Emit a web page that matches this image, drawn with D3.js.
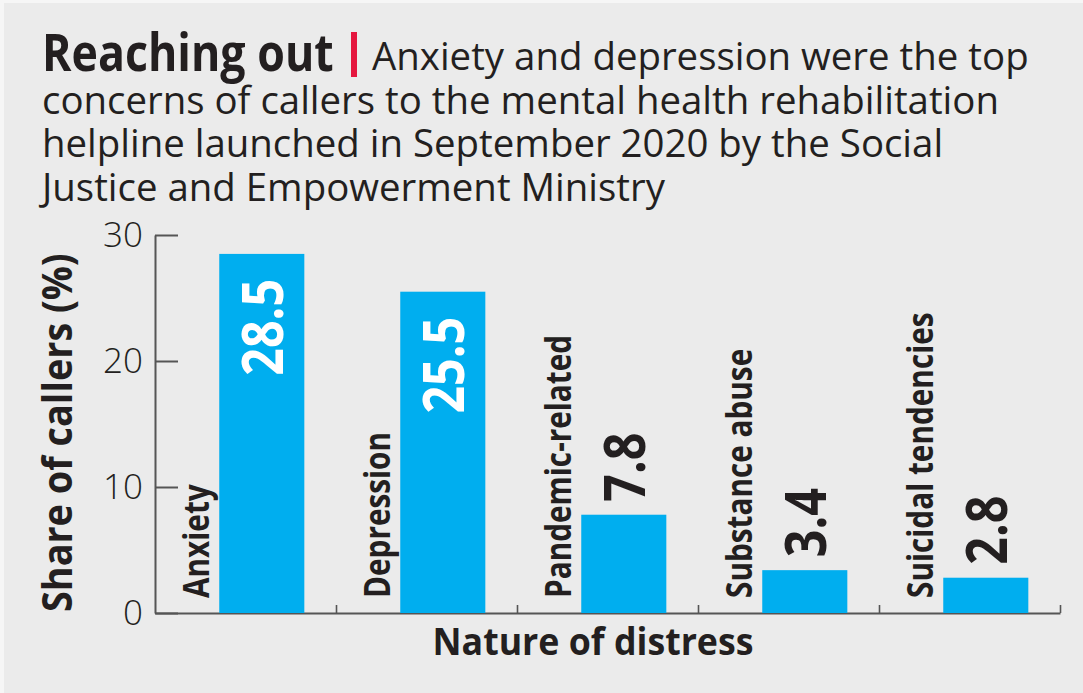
<!DOCTYPE html>
<html>
<head>
<meta charset="utf-8">
<script src="https://cdn.jsdelivr.net/npm/d3@7"></script>
<style>
  body { margin: 0; background: #f6f6f6; }
  svg { display: block; font-family: "Open Sans", "Noto Sans", sans-serif; }
</style>
</head>
<body>
<script>
const categories = ['Anxiety', 'Depression', 'Pandemic-related', 'Substance abuse', 'Suicidal tendencies'];
const shares = [28.5, 25.5, 7.8, 3.4, 2.8];
const yTicks = [0, 10, 20, 30];
const titleBold = 'Reaching out';
const titleLines = [
  'Anxiety and depression were the top',
  'concerns of callers to the mental health rehabilitation',
  'helpline launched in September 2020 by the Social',
  'Justice and Empowerment Ministry'
];
const yTitle = 'Share of callers (%)';
const xTitle = 'Nature of distress';

const width = 1083, height = 693;
const ink = '#231f20';
const blue = '#00aeef';

const svg = d3.select('body').append('svg').attr('width', width).attr('height', height);
svg.append('rect').attr('x', 4).attr('y', 3).attr('width', width - 4).attr('height', height - 3).attr('fill', '#ebebeb');

// header
svg.append('text')
  .attr('transform', 'translate(42,71) scale(0.86,1)')
  .attr('font-size', 52).attr('font-weight', 700).attr('fill', ink)
  .text(titleBold);
svg.append('rect').attr('x', 351).attr('y', 32).attr('width', 6).attr('height', 45).attr('fill', '#e5173f');

svg.selectAll('text.sub')
  .data(titleLines)
  .enter()
  .append('text')
    .attr('class', 'sub')
    .attr('x', (d, i) => i == 0 ? 372 : 42)
    .attr('y', (d, i) => 70 + i * 43.6)
    .attr('font-size', 38.4)
    .attr('fill', ink)
    .text(d => d);

// scales
let x0 = 155, x1 = 1060;
let y = d3.scaleLinear().domain([0, 30]).range([613, 235]);
let xBand = d3.scaleBand().domain(categories).range([x0, x1]);
let xIdx = d3.scaleLinear().domain([0, categories.length]).range([x0, x1]);
let bw = xBand.bandwidth();

// y axis
let yAxis = svg.append('g')
  .attr('transform', `translate(${x0},0)`)
  .call(d3.axisLeft(y).tickValues(yTicks).tickSize(-23).tickSizeOuter(0).tickPadding(12));
yAxis.select('.domain').attr('stroke', '#555').attr('stroke-width', 2);
yAxis.selectAll('.tick line').attr('stroke', '#555').attr('stroke-width', 2);
yAxis.selectAll('.tick text')
  .attr('font-size', 35).attr('font-weight', 300).attr('fill', ink)
  .attr('font-family', '"Open Sans", sans-serif');

// x axis (ticks between categories)
let xAxis = svg.append('g')
  .attr('transform', `translate(0,${y(0)})`)
  .call(d3.axisBottom(xIdx).tickValues(d3.range(1, categories.length + 1)).tickSize(-8).tickSizeOuter(0).tickFormat(''));
xAxis.select('.domain').attr('stroke', '#555').attr('stroke-width', 2);
xAxis.selectAll('.tick line').attr('stroke', '#555').attr('stroke-width', 1.6);

// bars
let bars = svg.append('g');
bars.selectAll('rect')
  .data(shares)
  .enter()
    .append('rect')
    .attr('x', (d, i) => xBand(categories[i]) + bw * 0.355)
    .attr('width', bw * 0.47)
    .attr('y', d => y(d))
    .attr('height', d => y(0) - y(d))
    .attr('fill', blue);

// category labels
svg.selectAll('text.cat')
  .data(categories)
  .enter()
  .append('text')
    .attr('class', 'cat')
    .attr('transform', d => `translate(${xBand(d) + 54},598) rotate(-90) scale(0.85,1)`)
    .attr('font-size', 35).attr('font-weight', 700).attr('fill', ink)
    .text(d => d);

// value labels
svg.selectAll('text.val')
  .data(shares)
  .enter()
  .append('text')
    .attr('class', 'val')
    .attr('transform', (d, i) => {
      let cx = xBand(categories[i]) + bw * 0.355 + bw * 0.235 + 21;
      let yy = d > 15 ? y(d) + 25 : y(d) - 13;
      return `translate(${cx},${yy}) rotate(-90) scale(0.85,1)`;
    })
    .attr('text-anchor', d => d > 15 ? 'end' : 'start')
    .attr('font-size', 57).attr('font-weight', 700)
    .attr('fill', d => d > 15 ? '#fff' : ink)
    .text(d => d.toFixed(1));

// axis titles
svg.append('text')
  .attr('transform', 'translate(72,612) rotate(-90) scale(0.9,1)')
  .attr('font-size', 42).attr('font-weight', 700).attr('fill', ink)
  .text(yTitle);

svg.append('text')
  .attr('transform', 'translate(593,655) scale(0.94,1)')
  .attr('text-anchor', 'middle')
  .attr('font-size', 38).attr('font-weight', 700).attr('fill', ink)
  .text(xTitle);
</script>
</body>
</html>
